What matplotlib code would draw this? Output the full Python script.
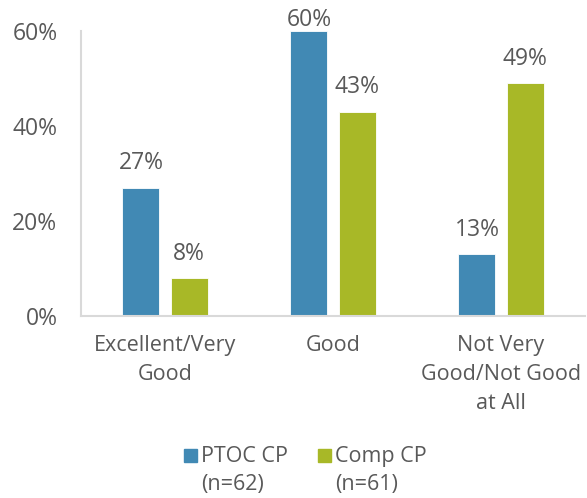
import matplotlib.pyplot as plt
import numpy as np
from matplotlib.patches import Rectangle

categories = ["Excellent/Very\nGood", "Good", "Not Very\nGood/Not Good\nat All"]
ptoc = [27, 60, 13]
comp = [8, 43, 49]
series_names = ["PTOC CP\n(n=62)", "Comp CP\n(n=61)"]
yticks = [0, 20, 40, 60]

BLUE = "#4189B4"
GREEN = "#A8B827"
TEXT = "#595959"
AXIS = "#D9D9D9"

plt.rcParams["font.family"] = ["Open Sans", "DejaVu Sans"]
FS_NUM = 16.5   # numbers look wider in the reference font
FS = 15.5

fig = plt.figure(figsize=(5.87, 4.98), dpi=100)
ax = fig.add_axes([81 / 587, (498 - 316) / 498, 504 / 587, 285 / 498])

x = np.arange(len(categories))
off, w = 0.143, 0.22
for vals, dx, c in [(ptoc, -off, BLUE), (comp, off, GREEN)]:
    ax.bar(x + dx, vals, width=w, color=c, edgecolor="white", linewidth=0.6)
    for xi, v in zip(x + dx, vals):
        # labels sit above the bars but stay inside the plot area at the top
        ax.text(xi, min(v + 2.6, 59.8), f"{v}%", ha="center", va="bottom",
                fontsize=FS_NUM, color=TEXT)

ax.set_xlim(-0.5, 2.5)
ax.set_ylim(0, 60)
ax.set_yticks(yticks)
ax.set_yticklabels([f"{t}%" for t in yticks])
ax.set_xticks(x)
ax.set_xticklabels(categories, linespacing=1.5)
ax.tick_params(axis="y", length=0, pad=17, labelsize=FS_NUM, labelcolor=TEXT)
ax.tick_params(axis="x", length=0, pad=14, labelsize=FS, labelcolor=TEXT)
for s in ["top", "right"]:
    ax.spines[s].set_visible(False)
for s in ["left", "bottom"]:
    ax.spines[s].set_color(AXIS)
    ax.spines[s].set_linewidth(1.5)

# legend drawn by hand so the square sits on the first text line
for name, c, xs in zip(series_names, [BLUE, GREEN], [184, 318]):
    fig.add_artist(Rectangle((xs / 587, 1 - 462 / 498), 13 / 587, 13 / 498,
                             transform=fig.transFigure, color=c))
    fig.text((xs + 17) / 587, 1 - 446 / 498, name, ha="left", va="top",
             fontsize=FS, color=TEXT, linespacing=1.45)

fig.savefig("out.png", dpi=100)
